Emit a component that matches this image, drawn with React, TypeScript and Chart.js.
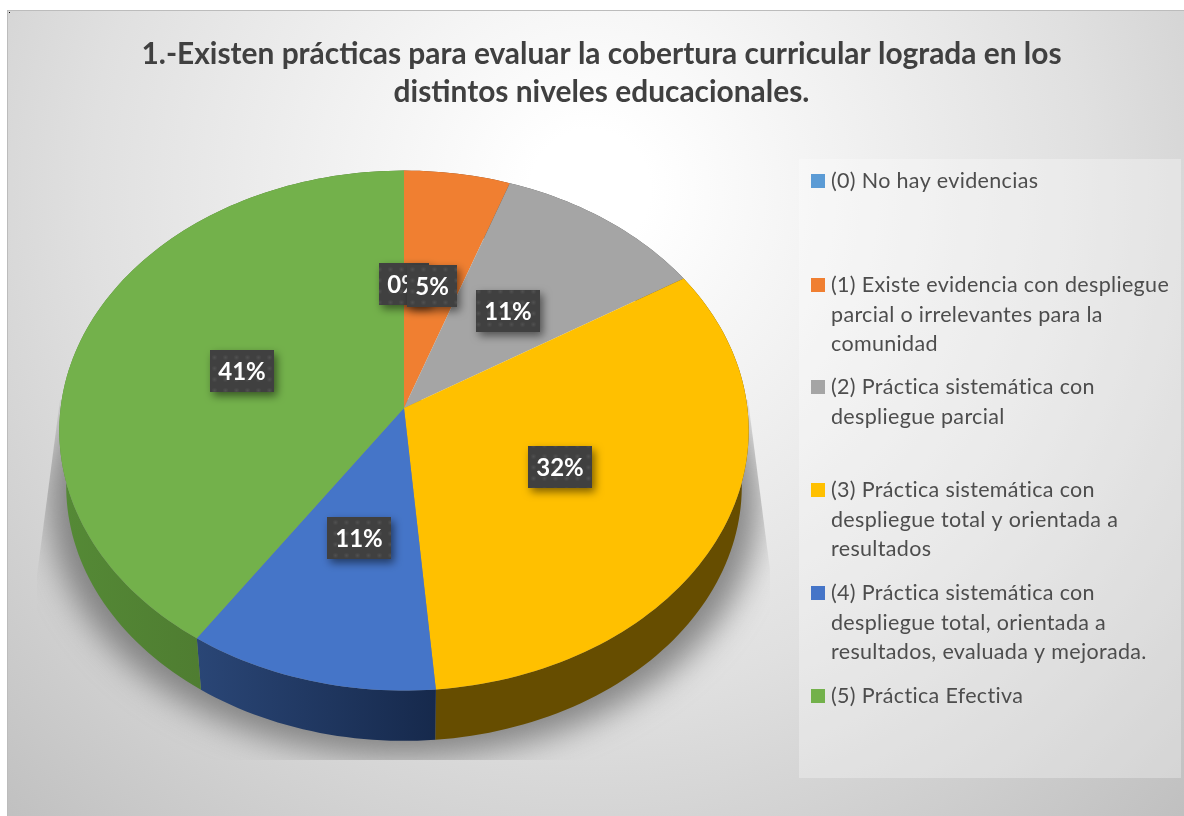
import React, { useEffect, useRef } from "react";
import { Chart, registerables } from "chart.js";

Chart.register(...registerables);

const TITLE_LINES = [
  "1.-Existen prácticas para evaluar la cobertura curricular lograda en los",
  "distintos niveles educacionales.",
];
const CATEGORIES = [
  "(0) No hay evidencias",
  "(1) Existe evidencia con despliegue parcial o irrelevantes para la comunidad",
  "(2) Práctica sistemática con despliegue parcial",
  "(3) Práctica sistemática con despliegue total y orientada a resultados",
  "(4) Práctica sistemática con despliegue total, orientada a resultados, evaluada y mejorada.",
  "(5) Práctica Efectiva",
];
const LEGEND_LINES = [
  ["(0) No hay evidencias"],
  ["(1) Existe evidencia con despliegue", "parcial o irrelevantes para la", "comunidad"],
  ["(2) Práctica sistemática con", "despliegue parcial"],
  ["(3) Práctica sistemática con", "despliegue total y orientada a", "resultados"],
  ["(4) Práctica sistemática con", "despliegue total, orientada a", "resultados, evaluada y mejorada."],
  ["(5) Práctica Efectiva"],
];
const VALUES = [0, 2, 4, 12, 4, 15];
const COLORS = ["#5B9BD5", "#F07F31", "#A5A5A5", "#FFC000", "#4575C8", "#73B14B"];
const WALL_COLORS = [
  ["#2e4f6f", "#2e4f6f"],
  ["#77401a", "#77401a"],
  ["#555555", "#555555"],
  ["#664d00", "#664d00"],
  ["#2a4676", "#16294c"],
  ["#558a36", "#466a2a"],
];

const FONT = "Lato, 'Open Sans', sans-serif";
const TILT = 0.0868;
const X_STRETCH = 1.331;
const WALL_SCALE = 0.98;
const WALL_DROP = 56;

type Pt = [number, number];

function project(arc: any, angle: number, f = 1): Pt {
  const a = angle + Math.PI / 2;
  const u = Math.sin(a) * f;
  const v = Math.cos(a) * f;
  const d = 1 + TILT * v;
  return [arc.x + (arc.outerRadius * X_STRETCH * u) / d, arc.y - (arc.outerRadius * v) / d];
}
function rimPoints(arc: any): Pt[] {
  const pts: Pt[] = [];
  const n = Math.max(2, Math.ceil((arc.endAngle - arc.startAngle) * 40));
  for (let i = 0; i <= n; i++) {
    pts.push(project(arc, arc.startAngle + ((arc.endAngle - arc.startAngle) * i) / n));
  }
  return pts;
}
function lowered(arc: any, p: Pt): Pt {
  return [arc.x + (p[0] - arc.x) * WALL_SCALE, arc.y + (p[1] - arc.y) * WALL_SCALE + WALL_DROP];
}

const backdrop = {
  id: "backdrop",
  beforeDraw(chart: any) {
    const { ctx, width, height } = chart;
    ctx.save();
    ctx.fillStyle = "#ffffff";
    ctx.fillRect(0, 0, width, height);
    const g = ctx.createRadialGradient(590, 190, 60, 590, 190, 860);
    g.addColorStop(0, "#ffffff");
    g.addColorStop(0.55, "#e0e0e0");
    g.addColorStop(1, "#c0c0c0");
    ctx.fillStyle = g;
    ctx.fillRect(7, 11, width - 7, height - 11);
    ctx.fillStyle = "#bcbcbc";
    ctx.fillRect(7, 10, width - 7, 1);
    ctx.fillRect(7, 10, 1, height - 10);
    ctx.fillStyle = "#000000";
    ctx.fillRect(9, 12, 1, 1);
    ctx.fillStyle = "rgba(255,255,255,0.3)";
    ctx.fillRect(799, 159, 382, 619);
    ctx.restore();
  },
};

const pie3d = {
  id: "pie3d",
  beforeDatasetsDraw(chart: any) {
    const { ctx } = chart;
    const arcs = chart.getDatasetMeta(0).data as any[];
    const first = arcs[0];
    // soft floor shadow
    ctx.save();
    ctx.beginPath();
    ctx.moveTo(60, 400);
    ctx.lineTo(748, 400);
    ctx.lineTo(770, 570);
    ctx.lineTo(770, 760);
    ctx.lineTo(37, 760);
    ctx.lineTo(37, 575);
    ctx.closePath();
    ctx.clip();
    ctx.filter = "blur(16px)";
    ctx.fillStyle = "rgba(110,110,110,0.8)";
    ctx.beginPath();
    const whole = { x: first.x, y: first.y, outerRadius: first.outerRadius, startAngle: -Math.PI / 2, endAngle: 1.5 * Math.PI };
    rimPoints(whole).forEach((p, i) => {
      const q = lowered(whole, p);
      const sx = q[0] + (q[0] - first.x) * 0.05;
      const sy = q[1] + 16;
      if (i) ctx.lineTo(sx, sy);
      else ctx.moveTo(sx, sy);
    });
    ctx.closePath();
    ctx.fill();
    ctx.restore();

    // side walls
    arcs.forEach((arc, i) => {
      if (arc.endAngle <= arc.startAngle) return;
      const top = rimPoints(arc);
      const low = top.map((p) => lowered(arc, p));
      const xs = top.map((p) => p[0]);
      const g = ctx.createLinearGradient(Math.min(...xs), 0, Math.max(...xs), 0);
      g.addColorStop(0, WALL_COLORS[i][0]);
      g.addColorStop(1, WALL_COLORS[i][1]);
      ctx.fillStyle = g;
      ctx.beginPath();
      top.forEach((p, j) => (j ? ctx.lineTo(p[0], p[1]) : ctx.moveTo(p[0], p[1])));
      low.reverse().forEach((p) => ctx.lineTo(p[0], p[1]));
      ctx.closePath();
      ctx.fill();
    });

    // top faces
    arcs.forEach((arc, i) => {
      if (arc.endAngle <= arc.startAngle) return;
      const c = project(arc, 0, 0);
      ctx.fillStyle = COLORS[i];
      ctx.beginPath();
      ctx.moveTo(c[0], c[1]);
      rimPoints(arc).forEach((p) => ctx.lineTo(p[0], p[1]));
      ctx.closePath();
      ctx.fill();
    });
    return false;
  },
};

function dotPattern(ctx: CanvasRenderingContext2D) {
  const c = document.createElement("canvas");
  c.width = 11;
  c.height = 11;
  const x = c.getContext("2d")!;
  x.fillStyle = "#404040";
  x.fillRect(0, 0, 11, 11);
  const g = x.createRadialGradient(5.5, 5.5, 0, 5.5, 5.5, 3);
  g.addColorStop(0, "#505050");
  g.addColorStop(1, "#404040");
  x.fillStyle = g;
  x.fillRect(0, 0, 11, 11);
  return ctx.createPattern(c, "repeat")!;
}

const sliceLabels = {
  id: "sliceLabels",
  afterDraw(chart: any) {
    const { ctx } = chart;
    const arcs = chart.getDatasetMeta(0).data as any[];
    const total = VALUES.reduce((a, b) => a + b, 0);
    const pattern = dotPattern(ctx);
    ctx.save();
    ctx.font = `bold 24px ${FONT}`;
    ctx.textAlign = "center";
    ctx.textBaseline = "middle";
    arcs.forEach((arc, i) => {
      const text = `${Math.round((VALUES[i] / total) * 100)}%`;
      const [cx, cy] = project(arc, (arc.startAngle + arc.endAngle) / 2, 0.5);
      const w = Math.round(ctx.measureText(text).width + 16);
      const h = 42;
      const left = Math.round(cx - w / 2);
      const top = Math.round(cy - h / 2);
      ctx.save();
      ctx.shadowColor = "rgba(0,0,0,0.5)";
      ctx.shadowBlur = 9;
      ctx.shadowOffsetX = 3;
      ctx.shadowOffsetY = 4;
      ctx.fillStyle = pattern;
      ctx.fillRect(left, top, w, h);
      ctx.restore();
      ctx.fillStyle = "#ffffff";
      ctx.fillText(text, left + w / 2, top + h / 2 + 1);
    });
    ctx.restore();
  },
};

const sideLegend = {
  id: "sideLegend",
  afterDraw(chart: any) {
    const { ctx } = chart;
    const swatchCenters = [181, 285, 387, 490, 593, 696];
    ctx.save();
    ctx.font = `21.5px ${FONT}`;
    (ctx as any).letterSpacing = "0.33px";
    ctx.textBaseline = "alphabetic";
    ctx.textAlign = "left";
    LEGEND_LINES.forEach((lines, i) => {
      const y = swatchCenters[i];
      ctx.fillStyle = COLORS[i];
      ctx.fillRect(811, y - 7, 14, 14);
      ctx.fillStyle = "#4d4d4d";
      lines.forEach((line, j) => ctx.fillText(line, 831, y + 7 + j * 29.5));
    });
    ctx.restore();
  },
};

const widenTitle = {
  id: "widenTitle",
  afterLayout(chart: any) {
    if (chart.titleBlock) {
      chart.titleBlock.left = 7;
      chart.titleBlock.right = chart.width + 12;
    }
  },
};

export default function App() {
  const ref = useRef<HTMLCanvasElement>(null);
  useEffect(() => {
    const chart = new Chart(ref.current!, {
      type: "pie",
      data: {
        labels: CATEGORIES,
        datasets: [{ data: VALUES, backgroundColor: COLORS, borderWidth: 0 }],
      },
      options: {
        responsive: false,
        animation: false,
        events: [],
        layout: { padding: { left: 146, right: 522, top: 35, bottom: 150 } },
        plugins: {
          legend: { display: false },
          tooltip: { enabled: false },
          title: {
            display: true,
            text: TITLE_LINES,
            color: "#404040",
            font: { family: FONT, size: 29.9, weight: "bold", lineHeight: 38 / 29.9 },
            padding: { top: 0, bottom: 39 },
          },
        },
      } as any,
      plugins: [backdrop, widenTitle, pie3d, sliceLabels, sideLegend],
    });
    return () => chart.destroy();
  }, []);
  return (
    <canvas
      ref={ref}
      width={1184}
      height={816}
      style={{ position: "absolute", left: 0, top: 0, display: "block", width: 1184, height: 816 }}
    />
  );
}
